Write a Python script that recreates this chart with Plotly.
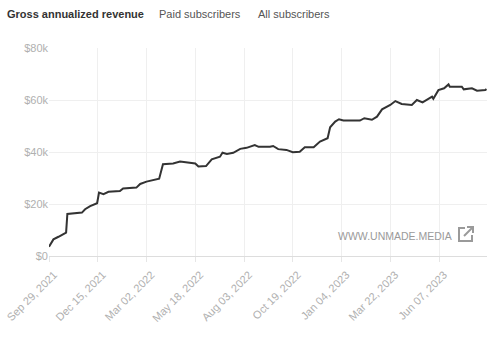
import plotly.graph_objects as go

# Gross annualized revenue (USD) by date
dates = [
    "2021-09-29", "2021-10-02", "2021-10-06", "2021-10-14", "2021-10-24", "2021-10-26",
    "2021-10-28", "2021-11-20", "2021-11-25", "2021-12-03", "2021-12-14", "2021-12-17",
    "2021-12-24", "2022-01-01", "2022-01-19", "2022-01-24", "2022-02-14", "2022-02-20",
    "2022-03-02", "2022-03-19", "2022-03-22", "2022-03-28", "2022-04-13", "2022-04-24",
    "2022-05-05", "2022-05-18", "2022-05-23", "2022-06-04", "2022-06-13", "2022-06-26",
    "2022-06-30", "2022-07-07", "2022-07-17", "2022-07-28", "2022-08-07", "2022-08-20",
    "2022-08-26", "2022-09-13", "2022-09-18", "2022-09-26", "2022-10-09", "2022-10-19",
    "2022-10-30", "2022-11-07", "2022-11-21", "2022-12-01", "2022-12-13", "2022-12-17",
    "2022-12-25", "2022-12-31", "2023-01-07", "2023-02-02", "2023-02-09", "2023-02-21",
    "2023-03-01", "2023-03-09", "2023-03-22", "2023-03-30", "2023-04-09", "2023-04-25",
    "2023-05-03", "2023-05-12", "2023-05-27", "2023-05-29", "2023-06-06", "2023-06-15",
    "2023-06-22", "2023-06-24", "2023-07-13", "2023-07-16", "2023-07-29", "2023-08-06",
    "2023-08-19", "2023-08-21",
]
revenue = [
    3600, 4900, 6400, 7400, 8700, 9000,
    16200, 16700, 18000, 19200, 20300, 24400,
    23800, 24700, 25000, 26000, 26300, 27700,
    28600, 29500, 29700, 35300, 35600, 36300,
    35900, 35600, 34400, 34600, 37200, 38200,
    39700, 39200, 39700, 41200, 41600, 42700,
    42000, 42000, 42300, 41100, 40800, 39900,
    40100, 41800, 41800, 44000, 45300, 49500,
    51700, 52600, 52100, 52100, 53000, 52400,
    53600, 56400, 58100, 59600, 58500, 58100,
    60000, 59100, 61300, 60500, 63800, 64500,
    66000, 65100, 65100, 64100, 64500, 63600,
    63800, 64200,
]

# Axis ticks
x_tick_vals = [
    "2021-09-29", "2021-12-15", "2022-03-02", "2022-05-18", "2022-08-03",
    "2022-10-19", "2023-01-04", "2023-03-22", "2023-06-07",
]
x_tick_text = [
    "Sep 29, 2021", "Dec 15, 2021", "Mar 02, 2022", "May 18, 2022", "Aug 03, 2022",
    "Oct 19, 2022", "Jan 04, 2023", "Mar 22, 2023", "Jun 07, 2023",
]
y_tick_vals = [0, 20000, 40000, 60000, 80000]
y_tick_text = ["$0", "$20k", "$40k", "$60k", "$80k"]

tabs = ["Gross annualized revenue", "Paid subscribers", "All subscribers"]
watermark = "WWW.UNMADE.MEDIA"

FONT = "Liberation Sans, Arial, Helvetica, sans-serif"
W, H = 493, 337
L, R, T, B = 49, 6, 48, 81
PW, PH = W - L - R, H - T - B


def px(x):
    return (x - L) / PW


def py(y):
    return (H - B - y) / PH


fig = go.Figure()
fig.add_trace(go.Scatter(
    x=dates, y=revenue, mode="lines",
    line=dict(color="#333333", width=2),
    hoverinfo="x+y",
))

# Tab header
tab_x = [5, 157, 256]
for i, (label, tx) in enumerate(zip(tabs, tab_x)):
    fig.add_annotation(
        text=f"<b>{label}</b>" if i == 0 else label,
        xref="paper", yref="paper", x=px(tx), y=py(14),
        xanchor="left", yanchor="middle", showarrow=False,
        font=dict(family=FONT, size=11, color="#333333" if i == 0 else "#555555"),
    )

# Watermark with external-link icon
fig.add_annotation(
    text=watermark, xref="paper", yref="paper", x=px(454), y=py(236),
    xanchor="right", yanchor="middle", showarrow=False,
    font=dict(family=FONT, size=10.5, color="#9a9a9a"),
)


def path(points):
    return "M " + " L ".join(f"{px(a):.5f},{py(b):.5f}" for a, b in points)


icon_style = dict(type="path", xref="paper", yref="paper",
                  line=dict(color="#9a9a9a", width=2))
fig.add_shape(path=path([(465, 228), (459, 228), (459, 241), (472, 241), (472, 235)]), **icon_style)
fig.add_shape(path=path([(464, 236), (473, 227)]), **icon_style)
fig.add_shape(path=path([(467, 227), (473, 227), (473, 233)]), **icon_style)

fig.update_layout(
    width=W, height=H,
    margin=dict(l=L, r=R, t=T, b=B),
    paper_bgcolor="white", plot_bgcolor="white",
    showlegend=False,
    font=dict(family=FONT),
    xaxis=dict(
        type="date",
        range=["2021-09-29", "2023-08-21 18:00"],
        tickvals=x_tick_vals, ticktext=x_tick_text, tickangle=-45,
        tickfont=dict(size=11, color="#b0b0b0"),
        ticklabelshift=5, ticklabelstandoff=2,
        showgrid=True, gridcolor="#efefef", gridwidth=1,
        ticks="outside", ticklen=5, tickcolor="#e6e6e6",
        showline=False, zeroline=False, fixedrange=True,
    ),
    yaxis=dict(
        range=[0, 80000],
        tickvals=y_tick_vals, ticktext=y_tick_text,
        tickfont=dict(size=11, color="#b0b0b0"),
        showgrid=True, gridcolor="#efefef", gridwidth=1,
        zeroline=True, zerolinecolor="#dddddd", zerolinewidth=1,
        ticks="", showline=False, fixedrange=True,
    ),
)

fig.write_html("out.html")
